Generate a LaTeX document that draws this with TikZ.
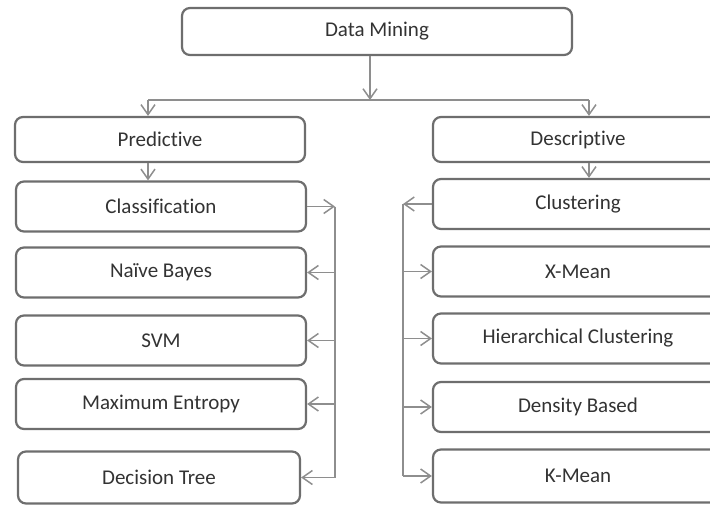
\documentclass[tikz,border=0pt]{standalone}
\usepackage{fontspec}
\setmainfont{Carlito}[Ligatures=NoCommon]
\usetikzlibrary{arrows.meta}
\definecolor{boxgray}{HTML}{6E6E6E}
\definecolor{wiregray}{HTML}{8E8E8E}
\definecolor{textgray}{HTML}{333333}
\tikzset{
	box/.style={draw=boxgray, line width=2.2pt, rounded corners=8pt, fill=white,
		minimum width=290pt, minimum height=50pt, inner sep=0pt,
		text=textgray, font=\fontsize{21}{25}\selectfont},
	wire/.style={draw=wiregray, line width=1.5pt},
	link/.style={wire, -{Straight Barb[length=10pt,width=14pt,line width=1.5pt]}}
}

\begin{document}
\begin{tikzpicture}[x=1pt, y=-1pt]
		%%%%% START %%%%%
		\useasboundingbox (0, 0) rectangle (710, 506);
		\clip (0, 0) rectangle (710, 506);
		
		\node[box, minimum width=390pt, minimum height=47pt] (dm) at (377, 31.5) {Data Mining};
		
		\node[box, minimum height=45pt] (pred) at (160, 139.5) {Predictive};
		\node[box, minimum height=45pt] (desc) at (578, 139.5) {Descriptive};
		
		\node[box] (cls) at (161, 206.5) {Classification};
		\node[box] (nb) at (161, 272.5) {Na\"ive Bayes};
		\node[box] (svm) at (161, 340.5) {SVM};
		\node[box] (me) at (161, 404) {Maximum Entropy};
		\node[box, minimum width=282pt, minimum height=52pt] (dt) at (159, 477.5) {Decision Tree};
		
		\node[box] (clu) at (578, 204) {Clustering};
		\node[box] (xm) at (578, 271.5) {X-Mean};
		\node[box] (hc) at (578, 338.5) {Hierarchical Clustering};
		\node[box] (db) at (578, 407) {Density Based};
		\node[box, minimum height=53pt] (km) at (578, 476) {K-Mean};
		
		\coordinate (split) at (370, 100);
		\coordinate (pin) at (148, 100);
		\coordinate (din) at (589, 100);
		\coordinate (lbus) at (335, 0);
		\coordinate (rbus) at (403, 0);
		
		\draw[link] (dm.south -| split) -- (split);
		\draw[wire] (pin) -- (din);
		\draw[link] (pin) -- (pin |- pred.north);
		\draw[link] (din) -- (din |- desc.north);
		\draw[link] (pred.south -| pin) -- (pin |- cls.north);
		\draw[link] (desc.south -| din) -- (din |- clu.north);
		
		\draw[wire] (lbus |- cls.east) -- (lbus |- dt.east);
		\draw[link] (cls.east) -- (lbus |- cls.east);
		\foreach \n in {nb, svm, me, dt}
			\draw[link] (lbus |- \n.east) -- (\n.east);
		
		\draw[wire] (rbus |- clu.west) -- (rbus |- km.west);
		\draw[link] (clu.west) -- (rbus |- clu.west);
		\foreach \n in {xm, hc, db, km}
			\draw[link] (rbus |- \n.west) -- (\n.west);
		
		%%%%% END %%%%%
	\end{tikzpicture}
\end{document}
